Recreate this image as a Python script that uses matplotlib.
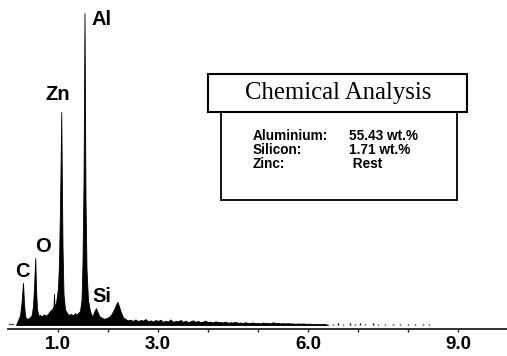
import matplotlib
matplotlib.use("Agg")
import matplotlib.pyplot as plt
from matplotlib.patches import Rectangle

# ---------------- data ----------------
energy_keV = [0.16, 0.20, 0.24, 0.27, 0.30, 0.32, 0.34, 0.36, 0.40, 0.44,
              0.47, 0.50, 0.52, 0.545, 0.56, 0.58, 0.61, 0.64, 0.68, 0.72,
              0.76, 0.80, 0.84, 0.88, 0.91, 0.92, 0.93, 0.96, 1.00, 1.02,
              1.04, 1.055, 1.065, 1.075, 1.09, 1.11, 1.14, 1.18, 1.22, 1.26,
              1.30, 1.34, 1.38, 1.41, 1.44, 1.47, 1.49, 1.51, 1.52, 1.53,
              1.54, 1.55, 1.57, 1.60, 1.64, 1.67, 1.70, 1.73, 1.76, 1.78,
              1.80, 1.83, 1.87, 1.92, 1.97, 2.02, 2.07, 2.12, 2.16, 2.19,
              2.22, 2.26, 2.30,
              2.35, 2.40, 2.45, 2.50, 2.55, 2.60, 2.65, 2.70, 2.75, 2.80,
              2.85, 2.90, 2.95, 3.00, 3.05, 3.10, 3.15, 3.20, 3.25, 3.30,
              3.35, 3.40, 3.45, 3.50, 3.55, 3.60, 3.65, 3.70, 3.75, 3.80,
              3.85, 3.90, 3.95, 4.00, 4.05, 4.10, 4.15, 4.20, 4.25, 4.30,
              4.35, 4.40, 4.45, 4.50, 4.55, 4.60, 4.65, 4.70, 4.75, 4.80,
              4.85, 4.90, 4.95, 5.00, 5.05, 5.10, 5.15, 5.20, 5.25, 5.30,
              5.35, 5.40, 5.45, 5.50, 5.55, 5.60, 5.65, 5.70, 5.75, 5.80,
              5.85, 5.90, 5.95, 6.00, 6.05, 6.10, 6.15, 6.20, 6.25, 6.30,
              6.35, 6.40]
counts = [0.0, 1.5, 3.0, 7.0, 13.5, 7.0, 3.0, 2.2, 2.0, 2.5,
          3.0, 6.0, 12.0, 21.5, 12.0, 5.0, 3.0, 3.2, 2.8, 3.4,
          3.0, 3.6, 4.5, 5.0, 6.0, 10.0, 6.0, 7.0, 12.0, 20.0,
          38.0, 55.0, 68.3, 50.0, 25.0, 10.0, 5.0, 3.8, 3.2, 3.6,
          3.0, 3.8, 3.4, 4.0, 4.5, 8.0, 20.0, 45.0, 70.0, 100.0,
          70.0, 40.0, 18.0, 8.0, 4.5, 3.0, 3.2, 4.5, 5.4, 4.6,
          3.8, 2.8, 2.4, 2.0, 2.2, 2.6, 3.5, 5.0, 6.5, 7.4,
          6.0, 4.0, 2.5,
          1.9, 1.5, 1.7, 1.3, 1.8, 1.2, 1.6, 1.4, 1.9, 1.2,
          1.5, 1.1, 1.6, 1.3, 1.7, 1.0, 1.4, 1.1, 1.8, 1.0,
          1.3, 1.2, 1.6, 1.0, 1.4, 0.9, 1.2, 1.5, 1.0, 1.3,
          0.9, 1.1, 1.4, 0.9, 1.1, 0.8, 1.2, 0.9, 1.0, 0.8,
          1.1, 0.7, 0.9, 0.8, 1.0, 0.7, 0.8, 0.6, 0.9, 0.6,
          0.7, 0.8, 0.6, 0.7, 0.5, 0.8, 0.6, 0.7, 0.5, 0.9,
          0.6, 0.7, 0.5, 0.6, 0.5, 0.6, 0.5, 0.5, 0.4, 0.5,
          0.4, 0.5, 0.4, 0.4, 0.4, 0.3, 0.4, 0.3, 0.3, 0.3,
          0.3, 0.0]

tail_energy_keV = [6.50, 6.60, 6.70, 6.85, 6.95, 7.05, 7.15, 7.30, 7.40,
                   7.55, 7.70, 7.85, 8.00, 8.15, 8.30, 8.42]
tail_counts = [0.4, 0.5, 0.4, 0.5, 0.4, 0.5, 0.4, 0.5, 0.4,
               0.4, 0.3, 0.3, 0.3, 0.3, 0.3, 0.3]

peak_labels = ["C", "O", "Zn", "Al", "Si"]
label_x = [0.14, 0.54, 0.74, 1.68, 1.68]
label_y = [15.4, 23.4, 72.1, 96.2, 7.4]

tick_positions = [1, 2, 3, 4, 5, 6, 7, 8, 9]
tick_labels = ["1.0", "", "3.0", "", "", "6.0", "", "", "9.0"]

box_title = "Chemical Analysis"
elements = ["Aluminium:", "Silicon:", "Zinc:"]
amounts = ["55.43 wt.%", "1.71 wt.%", " Rest"]

# ---------------- figure ----------------
W, H = 507, 356
fig = plt.figure(figsize=(W / 100, H / 100), dpi=100)
fig.patch.set_facecolor("white")

def fx(px):
    return px / W

def fy(py):
    return 1 - py / H

ax = fig.add_axes([fx(8), fy(329), fx(499), 329 / H])
ax.set_xlim(0, 9.98)
ax.set_ylim(-1.28, 104.2)

ax.fill_between(energy_keV, 0, counts, color="black", lw=0.6, edgecolor="black")
ax.vlines(tail_energy_keV, 0, tail_counts, color="black", lw=1.0)
ax.plot([0.02, 0.09], [0.3, 0.3], color="#555555", lw=1.0)

for s in ["left", "top", "right"]:
    ax.spines[s].set_visible(False)
ax.spines["bottom"].set_linewidth(1.3)
ax.spines["bottom"].set_color("#222222")
ax.set_yticks([])
ax.set_xticks(tick_positions)
ax.set_xticklabels(tick_labels, fontfamily="Liberation Sans",
                   fontweight="bold", fontsize=13.5)
ax.tick_params(axis="x", direction="out", length=2.5, width=1.0,
               color="#222222", pad=2.5)

for lab, x, y in zip(peak_labels, label_x, label_y):
    ax.text(x, y, lab, fontfamily="Liberation Sans", fontweight="bold",
            fontsize=14.5, ha="left", va="baseline")

# ---------------- chemical analysis box ----------------
fig.patches.append(Rectangle((fx(221), fy(200)), fx(457 - 221), (200 - 112) / H,
                             transform=fig.transFigure, fill=False,
                             edgecolor="black", lw=1.3))
fig.patches.append(Rectangle((fx(208), fy(112)), fx(467 - 208), (112 - 74) / H,
                             transform=fig.transFigure, facecolor="white",
                             edgecolor="black", lw=1.5))
fig.text(fx(338), fy(93), box_title, fontfamily="Liberation Serif",
         fontsize=17.8, ha="center", va="center")

row_y = [136, 150, 164]
for name, amt, ry in zip(elements, amounts, row_y):
    fig.text(fx(253), fy(ry), name, fontfamily="Liberation Sans",
             fontweight="bold", fontsize=9.8, ha="left", va="center")
    fig.text(fx(349), fy(ry), amt, fontfamily="Liberation Sans",
             fontweight="bold", fontsize=9.8, ha="left", va="center")

fig.savefig("out.png", dpi=100)
